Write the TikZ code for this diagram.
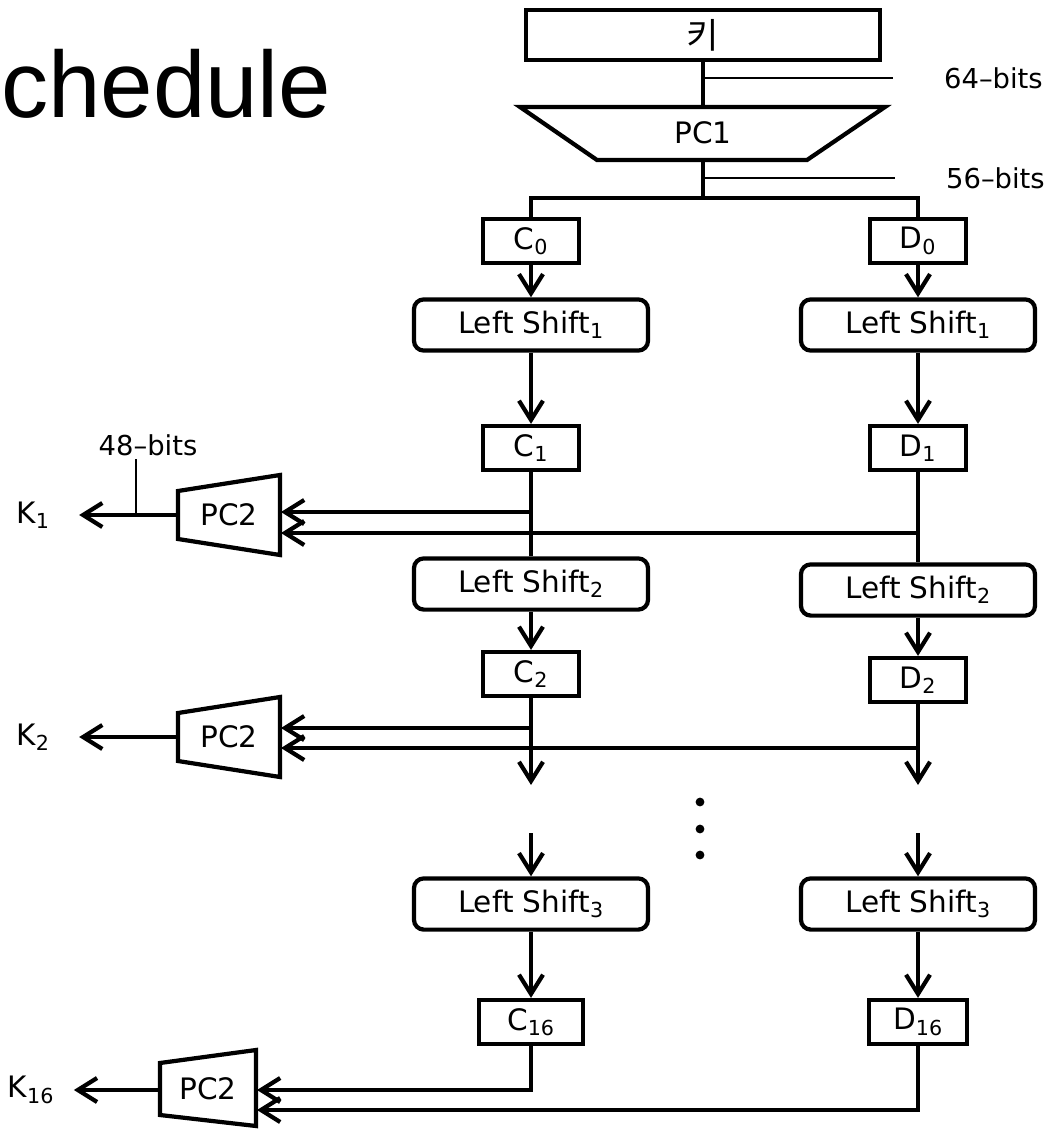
\documentclass[tikz,border=0pt]{standalone}
\usepackage{fontspec}
\setmainfont{DejaVu Sans}
\newfontfamily\titlefont{Liberation Sans}
\newfontfamily\kofont{Noto Sans CJK KR}
\usetikzlibrary{arrows.meta, positioning, calc}

\begin{document}
\begin{tikzpicture}[
  x=0.025cm, y=-0.025cm,
  line/.style={line width=3pt},
  thinline/.style={line width=0.9pt},
  arrow/.style={line width=3pt, -{Straight Barb[length=4.8mm, width=6mm]}},
  txt/.style={font={\fontsize{21}{25}\selectfont}},
  bits/.style={font={\fontsize{19.5}{23}\selectfont}, inner sep=2pt},
  knode/.style={font={\fontsize{21}{25}\selectfont}, inner sep=2pt, outer xsep=19pt},
  keybox/.style={rectangle, draw, line width=3pt, minimum width=8.85cm, minimum height=1.25cm, font={\fontsize{25}{28}\selectfont}},
  regbox/.style={rectangle, draw, line width=3pt, minimum width=2.4cm, minimum height=1.1cm, font={\fontsize{21}{25}\selectfont}},
  shiftbox/.style={rectangle, draw, rounded corners=7pt, line width=3pt, minimum width=5.85cm, minimum height=1.28cm, font={\fontsize{21}{25}\selectfont}}
]
  \useasboundingbox (0,0) rectangle (1060,1129);

  % Title (cut at the left edge)
  \node[anchor=base west, inner sep=0pt, font={\titlefont\fontsize{67}{70}\selectfont}] (ttl) at (1,118) {chedule};

  % Key and PC1
  \node[keybox] (key) at (703,35) {\kofont 키};
  \draw[line] (520,107) -- (885,107) -- (807,160) -- (597,160) -- cycle;
  \node[txt] (pc1) at (703,133) {PC1};
  \coordinate (pc1top) at (703,107);
  \coordinate (pc1bot) at (703,160);
  \coordinate (split) at (703,198);
  \draw[line] (key) -- (pc1top);
  \draw[line] (pc1bot) -- (split);

  % Bit widths
  \coordinate (k64) at (703,78);
  \coordinate (e64) at (893,78);
  \node[bits, right=1.2cm of e64] (b64) {64--bits};
  \draw[thinline] (k64) -- (e64);
  \coordinate (k56) at (703,178);
  \coordinate (e56) at (895,178);
  \node[bits, right=1.2cm of e56] (b56) {56--bits};
  \draw[thinline] (k56) -- (e56);

  % C and D halves
  \node[regbox] (c0) at (531,241) {C\textsubscript{0}};
  \node[regbox] (d0) at (918,241) {D\textsubscript{0}};
  \node[shiftbox] (ls1l) at (531,325) {Left Shift\textsubscript{1}};
  \node[shiftbox] (ls1r) at (918,325) {Left Shift\textsubscript{1}};
  \node[regbox] (c1) at (531,448) {C\textsubscript{1}};
  \node[regbox] (d1) at (918,448) {D\textsubscript{1}};
  \node[shiftbox] (ls2l) at (531,584) {Left Shift\textsubscript{2}};
  \node[shiftbox] (ls2r) at (918,590) {Left Shift\textsubscript{2}};
  \node[regbox] (c2) at (531,674) {C\textsubscript{2}};
  \node[regbox] (d2) at (918,680) {D\textsubscript{2}};
  \node[shiftbox] (ls3l) at (531,904) {Left Shift\textsubscript{3}};
  \node[shiftbox] (ls3r) at (918,904) {Left Shift\textsubscript{3}};
  \node[regbox, minimum width=2.6cm] (c16) at (531,1022) {C\textsubscript{16}};
  \node[regbox, minimum width=2.45cm] (d16) at (918,1022) {D\textsubscript{16}};

  \draw[line] (c0) |- (split) -| (d0);
  \draw[arrow] (c0) -- (ls1l);
  \draw[arrow] (d0) -- (ls1r);
  \draw[arrow] (ls1l) -- (c1);
  \draw[arrow] (ls1r) -- (d1);
  \draw[line] (c1) -- (ls2l);
  \draw[line] (d1) -- (ls2r);
  \draw[arrow] (ls2l) -- (c2);
  \draw[arrow] (ls2r) -- (d2);

  % Round 1 key
  \draw[line] (178,491) -- (280,475) -- (280,555) -- (178,539) -- cycle;
  \node[txt] (pc2a) at (229,515) {PC2};
  \node[knode] (k1) at (33,515) {K\textsubscript{1}};
  \coordinate (c1tap) at (531,512);
  \coordinate (d1tap) at (918,533);
  \coordinate (pc2a-in1) at (281,512);
  \coordinate (pc2a-in2) at (281,533);
  \coordinate (pc2a-out) at (178,515);
  \draw[arrow] (c1tap) -- (pc2a-in1);
  \draw[arrow] (d1tap) -- (pc2a-in2);
  \draw[arrow] (pc2a-out) -- (k1);
  \coordinate (b48foot) at (136,515);
  \node[bits] (b48) at (148,445) {48--bits};
  \draw[thinline] (b48foot) -- (b48foot |- b48.south);

  % Round 2 key
  \draw[line] (178,713) -- (280,697) -- (280,777) -- (178,761) -- cycle;
  \node[txt] (pc2b) at (229,737) {PC2};
  \node[knode] (k2) at (33,737) {K\textsubscript{2}};
  \coordinate (c2tap) at (531,728);
  \coordinate (d2tap) at (918,748);
  \coordinate (pc2b-in1) at (281,728);
  \coordinate (pc2b-in2) at (281,748);
  \coordinate (pc2b-out) at (178,737);
  \coordinate (cend) at (531,785);
  \coordinate (dend) at (918,785);
  \draw[arrow] (c2) -- (cend);
  \draw[arrow] (d2) -- (dend);
  \draw[arrow] (c2tap) -- (pc2b-in1);
  \draw[arrow] (d2tap) -- (pc2b-in2);
  \draw[arrow] (pc2b-out) -- (k2);

  % Skipped rounds
  \fill (700,802) circle (0.11cm);
  \fill (700,829) circle (0.11cm);
  \fill (700,855) circle (0.11cm);

  % Round 16 key
  \coordinate (cstart) at (531,833);
  \coordinate (dstart) at (918,833);
  \draw[arrow] (cstart) -- (ls3l);
  \draw[arrow] (dstart) -- (ls3r);
  \draw[arrow] (ls3l) -- (c16);
  \draw[arrow] (ls3r) -- (d16);
  \draw[line] (160,1063) -- (256,1050) -- (256,1126) -- (160,1115) -- cycle;
  \node[txt] (pc2c) at (208,1089) {PC2};
  \node[knode, outer xsep=12pt] (k16) at (31,1090) {K\textsubscript{16}};
  \coordinate (pc2c-in1) at (257,1090);
  \coordinate (pc2c-in2) at (257,1110);
  \coordinate (pc2c-out) at (160,1090);
  \draw[arrow] (c16) |- (pc2c-in1);
  \draw[arrow] (d16) |- (pc2c-in2);
  \draw[arrow] (pc2c-out) -- (k16);
\end{tikzpicture}
\end{document}
